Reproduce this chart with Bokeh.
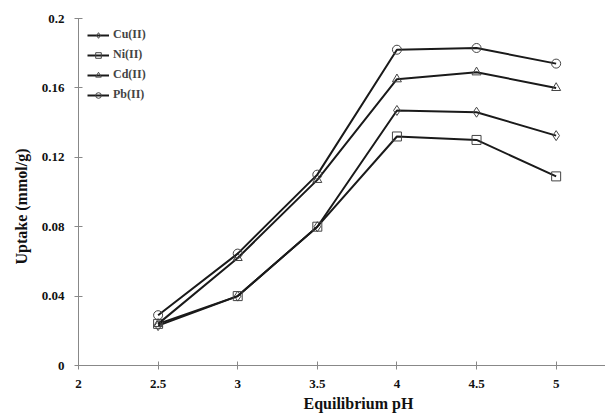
from bokeh.plotting import figure
from bokeh.models import Range1d, FixedTicker, Legend, LegendItem, Title
from bokeh.embed import file_html
from bokeh.resources import INLINE

ph = [2.5, 3, 3.5, 4, 4.5, 5]
cu = [0.023, 0.040, 0.080, 0.147, 0.146, 0.1325]
ni = [0.024, 0.040, 0.080, 0.132, 0.130, 0.109]
cd = [0.024, 0.062, 0.107, 0.165, 0.169, 0.160]
pb = [0.029, 0.0645, 0.110, 0.182, 0.183, 0.174]
x_ticks = [2, 2.5, 3, 3.5, 4, 4.5, 5]
y_ticks = [0, 0.04, 0.08, 0.12, 0.16, 0.2]

series = [("Cu(II)", cu, "diamond"), ("Ni(II)", ni, "square"),
          ("Cd(II)", cd, "triangle"), ("Pb(II)", pb, "circle")]

FONT = "Liberation Serif"

p = figure(width=605, height=414, output_backend="svg", toolbar_location=None,
           x_range=Range1d(2, 5.31), y_range=Range1d(0, 0.2),
           min_border_left=78, min_border_right=0, min_border_top=18, min_border_bottom=0)
p.outline_line_color = None
p.xgrid.grid_line_color = None
p.ygrid.grid_line_color = None

items = []
for name, ys, mk in series:
    r1 = p.line(ph, ys, line_color="#1a1a1a", line_width=2)
    sz = 10 if mk == "diamond" else 9
    r2 = p.scatter(ph, ys, marker=mk, size=sz, line_color="#444444", line_width=1,
                   fill_alpha=0)
    items.append(LegendItem(label=name, renderers=[r1, r2]))

leg = Legend(items=items, location="top_left")
leg.border_line_color = None
leg.background_fill_alpha = 0
leg.label_text_font = FONT
leg.label_text_font_style = "bold"
leg.label_text_font_size = "12px"
leg.glyph_width = 22
leg.glyph_height = 14
leg.label_height = 14
leg.spacing = 5
leg.margin = 9
leg.padding = 4
leg.label_standoff = 4
p.add_layout(leg)

for ax in (p.xaxis[0], p.yaxis[0]):
    ax.axis_line_color = "#888888"
    ax.major_tick_line_color = "#888888"
    ax.minor_tick_line_color = None
    ax.major_tick_in = 4
    ax.major_tick_out = 4
    ax.major_label_text_font = FONT
    ax.major_label_text_font_style = "bold"
    ax.major_label_text_font_size = "13px"
    ax.major_label_text_color = "#111111"

p.xaxis.ticker = FixedTicker(ticks=x_ticks)
p.yaxis.ticker = FixedTicker(ticks=y_ticks)
p.xaxis.major_label_standoff = 10
p.yaxis.major_label_standoff = 10

xt = Title(text="Equilibrium pH", align="left", offset=225, standoff=5,
           text_font=FONT, text_font_style="bold", text_font_size="16px",
           text_color="#111111")
yt = Title(text="Uptake (mmol/g)", align="left", offset=101, standoff=17,
           text_font=FONT, text_font_style="bold", text_font_size="16px",
           text_color="#111111")
p.add_layout(xt, "below")
p.add_layout(yt, "left")

open("out.html", "w").write(file_html(p, INLINE))
